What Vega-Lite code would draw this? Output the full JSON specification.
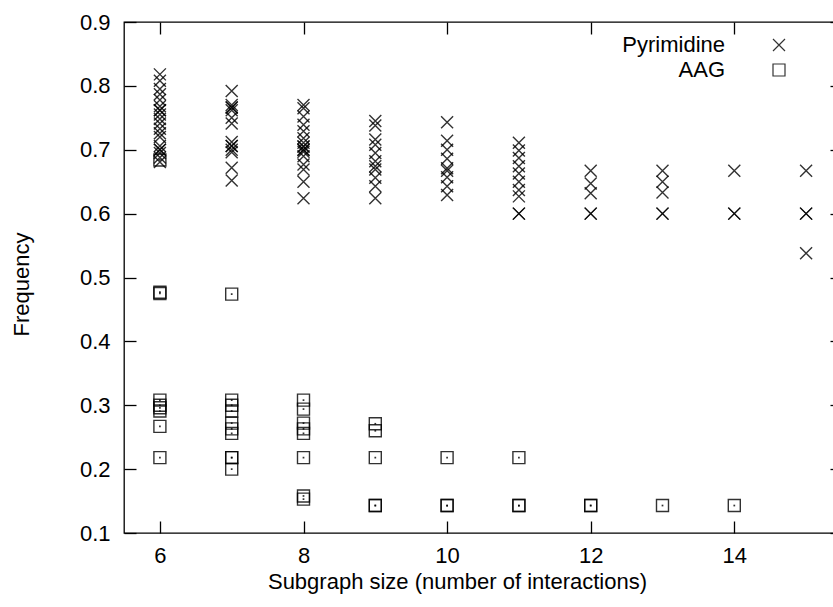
{
  "$schema": "https://vega.github.io/schema/vega-lite/v6.json",
  "width": 718,
  "height": 511,
  "autosize": {"type": "none"},
  "padding": {"left": 124, "top": 22, "right": 0, "bottom": 74},
  "background": "white",
  "config": {
    "view": {"stroke": "black", "strokeWidth": 1.3},
    "font": "Liberation Sans",
    "axis": {
      "grid": false,
      "domain": false,
      "tickColor": "black",
      "tickWidth": 1.3,
      "labelColor": "black",
      "titleColor": "black",
      "labelFont": "Liberation Sans",
      "titleFont": "Liberation Sans",
      "labelFontSize": 22,
      "titleFontSize": 22,
      "titleFontWeight": "normal",
      "labelOverlap": false,
      "labelFlush": false
    }
  },
  "data": {
    "values": [
      {"s": 6, "f": 0.818, "t": "Pyrimidine"}, {"s": 6, "f": 0.808, "t": "Pyrimidine"}, {"s": 6, "f": 0.795, "t": "Pyrimidine"},
      {"s": 6, "f": 0.787, "t": "Pyrimidine"}, {"s": 6, "f": 0.778, "t": "Pyrimidine"}, {"s": 6, "f": 0.768, "t": "Pyrimidine"},
      {"s": 6, "f": 0.762, "t": "Pyrimidine"}, {"s": 6, "f": 0.762, "t": "Pyrimidine"}, {"s": 6, "f": 0.755, "t": "Pyrimidine"},
      {"s": 6, "f": 0.748, "t": "Pyrimidine"}, {"s": 6, "f": 0.741, "t": "Pyrimidine"}, {"s": 6, "f": 0.733, "t": "Pyrimidine"},
      {"s": 6, "f": 0.726, "t": "Pyrimidine"}, {"s": 6, "f": 0.72, "t": "Pyrimidine"}, {"s": 6, "f": 0.706, "t": "Pyrimidine"},
      {"s": 6, "f": 0.7, "t": "Pyrimidine"}, {"s": 6, "f": 0.7, "t": "Pyrimidine"}, {"s": 6, "f": 0.695, "t": "Pyrimidine"},
      {"s": 6, "f": 0.688, "t": "Pyrimidine"}, {"s": 6, "f": 0.681, "t": "Pyrimidine"},
      {"s": 7, "f": 0.792, "t": "Pyrimidine"}, {"s": 7, "f": 0.77, "t": "Pyrimidine"}, {"s": 7, "f": 0.766, "t": "Pyrimidine"},
      {"s": 7, "f": 0.766, "t": "Pyrimidine"}, {"s": 7, "f": 0.762, "t": "Pyrimidine"}, {"s": 7, "f": 0.75, "t": "Pyrimidine"},
      {"s": 7, "f": 0.741, "t": "Pyrimidine"}, {"s": 7, "f": 0.712, "t": "Pyrimidine"}, {"s": 7, "f": 0.706, "t": "Pyrimidine"},
      {"s": 7, "f": 0.706, "t": "Pyrimidine"}, {"s": 7, "f": 0.7, "t": "Pyrimidine"}, {"s": 7, "f": 0.696, "t": "Pyrimidine"},
      {"s": 7, "f": 0.672, "t": "Pyrimidine"}, {"s": 7, "f": 0.652, "t": "Pyrimidine"},
      {"s": 8, "f": 0.77, "t": "Pyrimidine"}, {"s": 8, "f": 0.765, "t": "Pyrimidine"}, {"s": 8, "f": 0.752, "t": "Pyrimidine"},
      {"s": 8, "f": 0.739, "t": "Pyrimidine"}, {"s": 8, "f": 0.729, "t": "Pyrimidine"}, {"s": 8, "f": 0.718, "t": "Pyrimidine"},
      {"s": 8, "f": 0.711, "t": "Pyrimidine"}, {"s": 8, "f": 0.705, "t": "Pyrimidine"}, {"s": 8, "f": 0.705, "t": "Pyrimidine"},
      {"s": 8, "f": 0.7, "t": "Pyrimidine"}, {"s": 8, "f": 0.7, "t": "Pyrimidine"}, {"s": 8, "f": 0.697, "t": "Pyrimidine"},
      {"s": 8, "f": 0.69, "t": "Pyrimidine"}, {"s": 8, "f": 0.677, "t": "Pyrimidine"}, {"s": 8, "f": 0.669, "t": "Pyrimidine"},
      {"s": 8, "f": 0.65, "t": "Pyrimidine"}, {"s": 8, "f": 0.624, "t": "Pyrimidine"},
      {"s": 9, "f": 0.745, "t": "Pyrimidine"}, {"s": 9, "f": 0.738, "t": "Pyrimidine"}, {"s": 9, "f": 0.716, "t": "Pyrimidine"},
      {"s": 9, "f": 0.708, "t": "Pyrimidine"}, {"s": 9, "f": 0.695, "t": "Pyrimidine"}, {"s": 9, "f": 0.682, "t": "Pyrimidine"},
      {"s": 9, "f": 0.674, "t": "Pyrimidine"}, {"s": 9, "f": 0.669, "t": "Pyrimidine"}, {"s": 9, "f": 0.656, "t": "Pyrimidine"},
      {"s": 9, "f": 0.643, "t": "Pyrimidine"}, {"s": 9, "f": 0.624, "t": "Pyrimidine"},
      {"s": 10, "f": 0.743, "t": "Pyrimidine"}, {"s": 10, "f": 0.714, "t": "Pyrimidine"}, {"s": 10, "f": 0.7, "t": "Pyrimidine"},
      {"s": 10, "f": 0.686, "t": "Pyrimidine"}, {"s": 10, "f": 0.671, "t": "Pyrimidine"}, {"s": 10, "f": 0.667, "t": "Pyrimidine"},
      {"s": 10, "f": 0.657, "t": "Pyrimidine"}, {"s": 10, "f": 0.643, "t": "Pyrimidine"}, {"s": 10, "f": 0.629, "t": "Pyrimidine"},
      {"s": 11, "f": 0.711, "t": "Pyrimidine"}, {"s": 11, "f": 0.699, "t": "Pyrimidine"}, {"s": 11, "f": 0.687, "t": "Pyrimidine"},
      {"s": 11, "f": 0.674, "t": "Pyrimidine"}, {"s": 11, "f": 0.663, "t": "Pyrimidine"}, {"s": 11, "f": 0.65, "t": "Pyrimidine"},
      {"s": 11, "f": 0.637, "t": "Pyrimidine"}, {"s": 11, "f": 0.627, "t": "Pyrimidine"}, {"s": 11, "f": 0.6, "t": "Pyrimidine"},
      {"s": 11, "f": 0.6, "t": "Pyrimidine"},
      {"s": 12, "f": 0.667, "t": "Pyrimidine"}, {"s": 12, "f": 0.647, "t": "Pyrimidine"}, {"s": 12, "f": 0.632, "t": "Pyrimidine"},
      {"s": 12, "f": 0.6, "t": "Pyrimidine"}, {"s": 12, "f": 0.6, "t": "Pyrimidine"},
      {"s": 13, "f": 0.667, "t": "Pyrimidine"}, {"s": 13, "f": 0.65, "t": "Pyrimidine"}, {"s": 13, "f": 0.633, "t": "Pyrimidine"},
      {"s": 13, "f": 0.6, "t": "Pyrimidine"}, {"s": 13, "f": 0.6, "t": "Pyrimidine"},
      {"s": 14, "f": 0.667, "t": "Pyrimidine"}, {"s": 14, "f": 0.6, "t": "Pyrimidine"}, {"s": 14, "f": 0.6, "t": "Pyrimidine"},
      {"s": 15, "f": 0.667, "t": "Pyrimidine"}, {"s": 15, "f": 0.6, "t": "Pyrimidine"}, {"s": 15, "f": 0.6, "t": "Pyrimidine"},
      {"s": 15, "f": 0.538, "t": "Pyrimidine"},
      {"s": 6, "f": 0.684, "t": "AAG"}, {"s": 6, "f": 0.477, "t": "AAG"}, {"s": 6, "f": 0.475, "t": "AAG"},
      {"s": 6, "f": 0.308, "t": "AAG"}, {"s": 6, "f": 0.3, "t": "AAG"}, {"s": 6, "f": 0.296, "t": "AAG"},
      {"s": 6, "f": 0.291, "t": "AAG"}, {"s": 6, "f": 0.267, "t": "AAG"}, {"s": 6, "f": 0.218, "t": "AAG"},
      {"s": 7, "f": 0.474, "t": "AAG"}, {"s": 7, "f": 0.308, "t": "AAG"}, {"s": 7, "f": 0.3, "t": "AAG"},
      {"s": 7, "f": 0.291, "t": "AAG"}, {"s": 7, "f": 0.272, "t": "AAG"}, {"s": 7, "f": 0.263, "t": "AAG"},
      {"s": 7, "f": 0.256, "t": "AAG"}, {"s": 7, "f": 0.218, "t": "AAG"}, {"s": 7, "f": 0.218, "t": "AAG"},
      {"s": 7, "f": 0.2, "t": "AAG"},
      {"s": 8, "f": 0.308, "t": "AAG"}, {"s": 8, "f": 0.294, "t": "AAG"}, {"s": 8, "f": 0.272, "t": "AAG"},
      {"s": 8, "f": 0.263, "t": "AAG"}, {"s": 8, "f": 0.256, "t": "AAG"}, {"s": 8, "f": 0.218, "t": "AAG"},
      {"s": 8, "f": 0.158, "t": "AAG"}, {"s": 8, "f": 0.153, "t": "AAG"},
      {"s": 9, "f": 0.271, "t": "AAG"}, {"s": 9, "f": 0.26, "t": "AAG"}, {"s": 9, "f": 0.218, "t": "AAG"},
      {"s": 9, "f": 0.143, "t": "AAG"}, {"s": 9, "f": 0.143, "t": "AAG"},
      {"s": 10, "f": 0.218, "t": "AAG"}, {"s": 10, "f": 0.143, "t": "AAG"}, {"s": 10, "f": 0.143, "t": "AAG"},
      {"s": 11, "f": 0.218, "t": "AAG"}, {"s": 11, "f": 0.143, "t": "AAG"}, {"s": 11, "f": 0.143, "t": "AAG"},
      {"s": 12, "f": 0.143, "t": "AAG"}, {"s": 12, "f": 0.143, "t": "AAG"},
      {"s": 13, "f": 0.143, "t": "AAG"},
      {"s": 14, "f": 0.143, "t": "AAG"}
    ]
  },
  "layer": [
    {
      "mark": {"type": "point", "filled": false, "color": "black", "strokeWidth": 1.4, "opacity": 0.8},
      "encoding": {
        "x": {
          "field": "s", "type": "quantitative",
          "scale": {"domain": [5.5, 15.5], "nice": false, "zero": false},
          "axis": {
            "orient": "bottom", "values": [6, 8, 10, 12, 14], "offset": -12, "tickSize": 12,
            "labelPadding": 12, "title": "Subgraph size (number of interactions)", "titlePadding": 5, "titleX": 333
          }
        },
        "y": {
          "field": "f", "type": "quantitative",
          "scale": {"domain": [0.1, 0.9], "nice": false, "zero": false},
          "axis": {
            "orient": "left", "values": [0.1, 0.2, 0.3, 0.4, 0.5, 0.6, 0.7, 0.8, 0.9], "format": ".1f",
            "offset": -12, "tickSize": 12, "labelPadding": 14, "title": "Frequency", "titlePadding": 46, "titleY": 262
          }
        },
        "shape": {
          "field": "t", "type": "nominal",
          "scale": {"domain": ["Pyrimidine", "AAG"], "range": ["M-1,-1L1,1M1,-1L-1,1", "square"]},
          "legend": {
            "orient": "none", "legendX": 591, "legendY": 12, "title": null,
            "labelAlign": "right", "labelOffset": -65, "symbolOffset": 53,
            "labelFontSize": 22, "labelFont": "Liberation Sans", "labelColor": "black",
            "symbolSize": 144, "symbolStrokeColor": "black", "symbolStrokeWidth": 1.2,
            "symbolFillColor": "transparent", "rowPadding": 3, "symbolOpacity": 0.8
          }
        },
        "size": {"value": 144}
      }
    },
    {
      "transform": [{"filter": "datum.t === 'AAG'"}],
      "mark": {"type": "point", "filled": true, "shape": "square", "size": 3, "color": "black", "opacity": 0.8},
      "encoding": {
        "x": {
          "field": "s", "type": "quantitative",
          "axis": {"orient": "top", "values": [6, 8, 10, 12, 14], "offset": -12, "tickSize": 12, "labels": false, "title": null}
        },
        "y": {
          "field": "f", "type": "quantitative",
          "axis": {"orient": "right", "values": [0.1, 0.2, 0.3, 0.4, 0.5, 0.6, 0.7, 0.8, 0.9], "offset": -12, "tickSize": 12, "labels": false, "title": null}
        }
      }
    }
  ],
  "resolve": {"axis": {"x": "independent", "y": "independent"}}
}
